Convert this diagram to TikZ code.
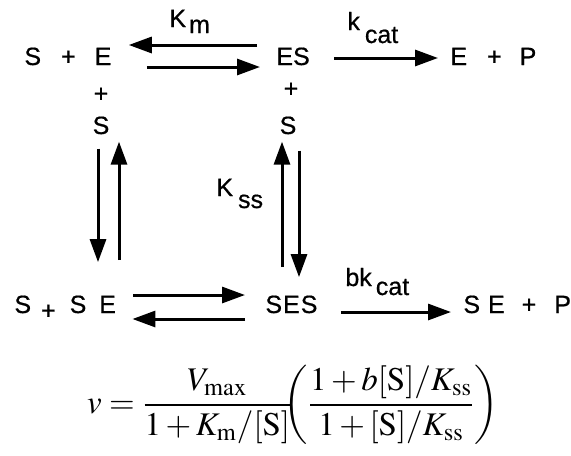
\documentclass[tikz,border=0pt]{standalone}
\usepackage{amsmath}
\usepackage{mathptmx}
\usepackage{fontspec}
\setmainfont{Liberation Serif}
\newfontfamily\chemfont[FakeBold=0.6]{Liberation Sans}
\usetikzlibrary{arrows.meta, calc}

\begin{document}
\begin{tikzpicture}[
  x=0.5pt, y=-0.5pt,
  chem/.style={inner sep=0pt, font={\chemfont\fontsize{12.5}{14}\selectfont}},
  rate/.style={chem, anchor=base west},
  arrow/.style={-{Triangle[length=11.5pt, width=8pt]}, line width=1.5pt}
]
\useasboundingbox (0,0) rectangle (571,455);

\node[chem, anchor=base west] (se) at (24,65) {S\hspace{10pt}+\hspace{9.5pt}E};
\node[chem, anchor=base west] (es) at (276,65) {ES};
\node[chem, anchor=base west] (ep) at (450,65) {E\hspace{10pt}+\hspace{9pt}P};
\node[chem, anchor=base] (plusE) at (101,102) {+};
\node[chem, anchor=base] (sE) at (101,134) {S};
\node[chem, anchor=base] (plusES) at (291,97) {+};
\node[chem, anchor=base] (sES) at (288,134) {S};

\node[chem, anchor=base west] (sse) at (14,313) {S\hspace{5pt}\raisebox{-3pt}{+}\hspace{7pt}S\hspace{6.5pt}E};
\node[chem, anchor=base west] (ses) at (265,313) {S\hspace{0.5pt}E\hspace{0.5pt}S};
\node[chem, anchor=base west] (sep) at (463,313) {S\hspace{4pt}E\hspace{8.5pt}+\hspace{9pt}P};

\node[rate] (km) at (169,27) {K\hspace{1.5pt}\raisebox{-3pt}{m}};
\node[rate] (kcat) at (347,30) {k\hspace{2.5pt}\raisebox{-6.5pt}{cat}};
\node[rate] (kss) at (216,196) {K\hspace{2.5pt}\raisebox{-6pt}{ss}};
\node[rate] (bkcat) at (345,286) {bk\hspace{2pt}\raisebox{-4.5pt}{cat}};

\draw[arrow] ($(es.base west)+(-19,-20)$) -- ($(se.base east)+(17,-20)$);
\draw[arrow] ($(se.base east)+(35,2)$) -- ($(es.base west)+(-16,2)$);
\draw[arrow] ($(es.base east)+(24,-7)$) -- ($(ep.base west)+(-12,-7)$);

\draw[arrow] ($(sE.south)+(-3,14)$) -- ($(sE.south |- sse.north)+(-3,-33)$);
\draw[arrow] ($(sE.south |- sse.north)+(18,-35)$) -- ($(sE.south)+(18,7)$);
\draw[arrow] ($(sES.south |- ses.north)+(-6,-28)$) -- ($(sES.south)+(-6,7)$);
\draw[arrow] ($(sES.south)+(11,16)$) -- ($(sES.south |- ses.north)+(11,-18)$);

\draw[arrow] ($(sse.base east)+(17,-18)$) -- ($(ses.base west)+(-20,-18)$);
\draw[arrow] ($(ses.base west)+(-20,6)$) -- ($(sse.base east)+(16,6)$);
\draw[arrow] ($(ses.base east)+(23,-1)$) -- ($(sep.base west)+(-12,-1)$);

\node[inner sep=0pt, font=\fontsize{16.5}{20}\selectfont] (rate) at (293,405)
  {$\displaystyle v=\frac{V_{\mathrm{max}}}{1+K_{\mathrm{m}}/[\mathrm{S}]}\mskip-7mu\left(\frac{1+b[\mathrm{S}]/K_{\mathrm{ss}}}{1+[\mathrm{S}]/K_{\mathrm{ss}}}\right)$};

\end{tikzpicture}
\end{document}
